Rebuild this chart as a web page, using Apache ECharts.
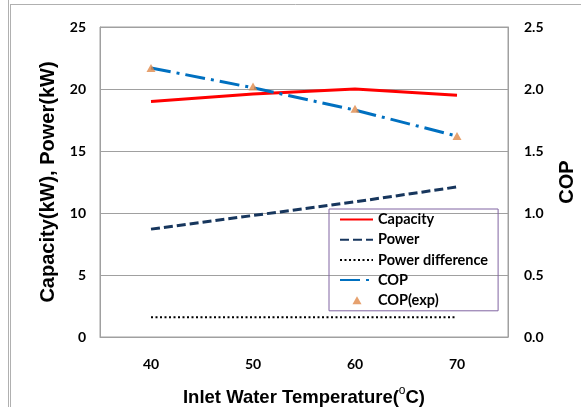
<!DOCTYPE html>
<html>
<head>
<meta charset="utf-8">
<script src="https://cdn.jsdelivr.net/npm/echarts@6/dist/echarts.min.js"></script>
<style>html,body{margin:0;padding:0;background:#fff;}#c{width:581px;height:407px;}</style>
</head>
<body>
<div id="c"></div>
<script>
const categories = ['40', '50', '60', '70'];
const capacity = [19.0, 19.6, 20.0, 19.5];
const power = [8.7, 9.8, 10.9, 12.1];
const powerDiff = [1.6, 1.6, 1.6, 1.6];
const cop = [2.17, 2.01, 1.83, 1.62];
const copExp = [2.17, 2.02, 1.84, 1.62];
const leftTicks = {min: 0, max: 25, interval: 5};
const rightTicks = {min: 0, max: 2.5, interval: 0.5};

const chart = echarts.init(document.getElementById('c'), null, {renderer: 'canvas'});
const tickFont = {fontFamily: 'Lato', fontWeight: 'bold', fontSize: 14, color: '#000'};
const hidden = {color: 'rgba(0,0,0,0)', borderWidth: 0};
chart.setOption({
  animation: false,
  backgroundColor: '#fff',
  grid: {left: 100, right: 73, top: 27, bottom: 70, show: true, borderColor: '#a0a0a0', borderWidth: 1,
         containLabel: false, outerBoundsMode: 'none'},
  graphic: [
    {type: 'line', shape: {x1: 8.5, y1: 0, x2: 8.5, y2: 407}, style: {stroke: '#b0b0b0', lineWidth: 1}},
    {type: 'line', shape: {x1: 10.5, y1: 4, x2: 10.5, y2: 407}, style: {stroke: '#b0b0b0', lineWidth: 1}},
    {type: 'line', shape: {x1: 10, y1: 4.5, x2: 581, y2: 4.5}, style: {stroke: '#b0b0b0', lineWidth: 1}},
    {type: 'text', x: -9, y: 183, rotation: Math.PI / 2, style: {text: 'COP', font: 'bold 20px "Liberation Sans"', fill: '#000', textAlign: 'center', textVerticalAlign: 'middle'}}
  ],
  legend: {
    left: 329, top: 209, orient: 'vertical',
    padding: [3, 10, 3, 10], itemGap: 5.2, itemWidth: 33, itemHeight: 14,
    borderColor: '#8064a2', borderWidth: 1,
    textStyle: {fontFamily: 'Lato', fontWeight: 'bold', fontSize: 14.5, color: '#000', padding: [0, 0, 0, 0]},
    data: [
      {name: 'Capacity', itemStyle: hidden},
      {name: 'Power', itemStyle: hidden},
      {name: 'Power difference', itemStyle: hidden},
      {name: 'COP', itemStyle: hidden},
      {name: 'COP(exp)', icon: 'path://M0,0M33,14M17,3L21.5,11L12.5,11Z', itemStyle: {color: '#e0894a'}}
    ]
  },
  xAxis: {
    type: 'category', data: categories, boundaryGap: true,
    axisLine: {lineStyle: {color: '#a0a0a0'}},
    axisTick: {inside: true, length: 5, lineStyle: {color: '#a0a0a0'}},
    axisLabel: Object.assign({margin: 20}, tickFont),
    name: '{a|Inlet Water Temperature(}{s|o}{a|C)}',
    nameLocation: 'middle', nameGap: 48,
    nameTextStyle: {
      rich: {
        a: {fontFamily: 'Liberation Sans', fontWeight: 'bold', fontSize: 18.5, color: '#000', lineHeight: 22, verticalAlign: 'bottom'},
        s: {fontFamily: 'Liberation Sans', fontSize: 12, color: '#000', lineHeight: 22, verticalAlign: 'top', padding: [0, 0, 7, 0]}
      }
    }
  },
  yAxis: [
    {
      type: 'value', min: leftTicks.min, max: leftTicks.max, interval: leftTicks.interval,
      axisLine: {show: true, lineStyle: {color: '#a0a0a0'}},
      axisTick: {show: false},
      splitLine: {lineStyle: {color: '#a0a0a0', width: 1}},
      axisLabel: Object.assign({margin: 14}, tickFont),
      name: 'Capacity(kW), Power(kW)', nameLocation: 'middle', nameGap: 39, nameRotate: 90,
      nameTextStyle: {fontFamily: 'Liberation Sans', fontWeight: 'bold', fontSize: 20, color: '#000'}
    },
    {
      type: 'value', min: rightTicks.min, max: rightTicks.max, interval: rightTicks.interval,
      position: 'right',
      axisLine: {show: true, lineStyle: {color: '#a0a0a0'}},
      axisTick: {show: false},
      splitLine: {show: false},
      axisLabel: Object.assign({margin: 16, formatter: v => v.toFixed(1)}, tickFont),
      name: 'COP', nameLocation: 'middle', nameGap: 49, nameRotate: 90,
      nameTextStyle: {fontFamily: 'Liberation Sans', fontWeight: 'bold', fontSize: 20, color: '#000'}
    }
  ],
  series: [
    {name: 'Capacity', type: 'line', data: capacity, yAxisIndex: 0, symbol: 'none', z: 3,
     lineStyle: {color: '#ff0000', width: 3}, itemStyle: {color: '#ff0000'}},
    {name: 'Power', type: 'line', data: power, yAxisIndex: 0, symbol: 'none',
     lineStyle: {color: '#17365d', width: 3, type: [9, 4]}, itemStyle: {color: '#17365d'}},
    {name: 'Power difference', type: 'line', data: powerDiff, yAxisIndex: 0, symbol: 'none',
     lineStyle: {color: '#000', width: 2, type: [2, 2.5]}, itemStyle: {color: '#000'}},
    {name: 'COP', type: 'line', data: cop, yAxisIndex: 1, symbol: 'none',
     lineStyle: {color: '#0070c0', width: 3, type: [20, 6, 3, 6]}, itemStyle: {color: '#0070c0'}},
    {name: 'COP(exp)', type: 'scatter', data: copExp, yAxisIndex: 1, symbol: 'triangle', symbolSize: [9, 8], z: 4,
     itemStyle: {color: '#e0894a'}}
  ]
});
</script>
</body>
</html>
